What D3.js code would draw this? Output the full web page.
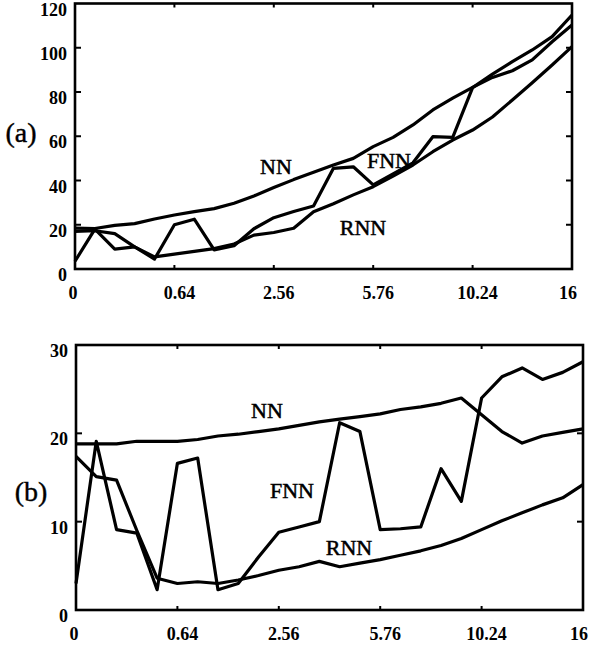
<!DOCTYPE html>
<html>
<head>
<meta charset="utf-8">
<script src="https://cdn.jsdelivr.net/npm/d3@7"></script>
<style>
  body { margin: 0; background: #fff; }
  svg { display: block; }
</style>
</head>
<body>
<div id="chart"></div>
<script>
// sample points (x axis is sqrt-spaced)
var xs = [0, 0.0256, 0.1024, 0.2304, 0.4096, 0.64, 0.9216, 1.2544, 1.6384, 2.0736,
  2.56, 3.0976, 3.6864, 4.3264, 5.0176, 5.76, 6.5536, 7.3984, 8.2944, 9.2416,
  10.24, 11.2896, 12.3904, 13.5424, 14.7456, 16];
var xTicks = [0, 0.64, 2.56, 5.76, 10.24, 16];

// panel (a)
var nnA  = [18.5, 18.3, 19.7, 20.5, 22.6, 24.4, 25.9, 27.3, 29.7, 33.0, 36.8, 40.4, 43.7, 47.0, 50.0, 55.3, 59.5, 65.1, 71.9, 77.2, 82.1, 86.6, 89.6, 94.5, 102.7, 110.3];
var fnnA = [3.5, 18.0, 9.0, 10.0, 4.5, 20.0, 22.5, 8.6, 10.5, 18.2, 23.2, 26.0, 28.5, 45.5, 46.2, 38.0, 43.0, 48.0, 59.8, 59.5, 82.0, 88.1, 93.7, 99.0, 105.0, 114.8];
var rnnA = [17.0, 17.3, 16.0, 10.0, 5.5, 6.7, 8.0, 9.2, 11.3, 15.3, 16.5, 18.4, 25.9, 29.5, 33.5, 37.2, 42.0, 47.0, 53.0, 58.3, 62.8, 68.7, 76.4, 84.2, 92.2, 100.5];
var yTicksA = [0, 20, 40, 60, 80, 100, 120];

// panel (b)
var nnB  = [18.8, 18.8, 18.8, 19.1, 19.1, 19.1, 19.3, 19.7, 19.9, 20.2, 20.5, 20.9, 21.3, 21.6, 21.9, 22.2, 22.7, 23.0, 23.4, 24.0, 22.1, 20.2, 18.9, 19.7, 20.1, 20.5];
var fnnB = [3.0, 19.1, 9.1, 8.7, 2.3, 16.6, 17.2, 2.3, 3.0, 6.0, 8.8, 9.4, 10.0, 21.2, 20.2, 9.1, 9.2, 9.4, 16.0, 12.3, 24.0, 26.4, 27.4, 26.1, 26.9, 28.1];
var rnnB = [17.4, 15.1, 14.7, 9.0, 3.6, 3.0, 3.2, 3.0, 3.4, 3.9, 4.5, 4.9, 5.5, 4.9, 5.3, 5.7, 6.2, 6.7, 7.3, 8.1, 9.1, 10.1, 11.0, 11.9, 12.7, 14.2];
var yTicksB = [0, 10, 20, 30];

var W = 589, H = 652;
var svg = d3.select("#chart").append("svg")
  .attr("width", W).attr("height", H);

var serif = "'Liberation Serif', 'Times New Roman', serif";

function panel(cfg) {
  var x = d3.scaleSqrt().domain([0, 16]).range([cfg.left, cfg.right]);
  var y = d3.scaleLinear().domain([0, cfg.ymax]).range([cfg.bottom, cfg.top]);
  var g = svg.append("g");

  // inward ticks on all four sides
  var tk = 6;
  cfg.yTicks.slice(1, -1).forEach(function(v) {
    g.append("line").attr("x1", cfg.left).attr("x2", cfg.left + tk)
      .attr("y1", y(v)).attr("y2", y(v)).attr("stroke", "#000").attr("stroke-width", 2);
    g.append("line").attr("x1", cfg.right).attr("x2", cfg.right - tk)
      .attr("y1", y(v)).attr("y2", y(v)).attr("stroke", "#000").attr("stroke-width", 2);
  });
  xTicks.slice(1, -1).forEach(function(v) {
    g.append("line").attr("x1", x(v)).attr("x2", x(v))
      .attr("y1", cfg.top).attr("y2", cfg.top + 4).attr("stroke", "#000").attr("stroke-width", 2);
    g.append("line").attr("x1", x(v)).attr("x2", x(v))
      .attr("y1", cfg.bottom).attr("y2", cfg.bottom - 4).attr("stroke", "#000").attr("stroke-width", 2);
  });

  // lines
  var line = d3.line()
    .x(function(d, i) { return x(xs[i]); })
    .y(function(d) { return y(d); });
  cfg.series.forEach(function(s) {
    g.append("path").datum(s)
      .attr("d", line)
      .attr("fill", "none")
      .attr("stroke", "#000")
      .attr("stroke-width", 3.2)
      .attr("stroke-linejoin", "round");
  });

  // frame
  g.append("rect")
    .attr("x", cfg.left).attr("y", cfg.top)
    .attr("width", cfg.right - cfg.left).attr("height", cfg.bottom - cfg.top)
    .attr("fill", "none").attr("stroke", "#000").attr("stroke-width", 2.6);

  // y labels
  g.selectAll(".yl").data(cfg.yTicks).enter().append("text")
    .attr("x", cfg.left - 8)
    .attr("y", function(d) { return y(d) + 12; })
    .attr("text-anchor", "end")
    .style("font-family", serif).style("font-weight", "bold").style("font-size", "18px")
    .text(function(d) { return d; });

  // x labels
  g.selectAll(".xl").data(xTicks).enter().append("text")
    .attr("x", function(d) { return x(d) + (d == 16 ? -4 : d == 0 ? -2 : 5); })
    .attr("y", cfg.bottom + 30)
    .attr("text-anchor", "middle")
    .style("font-family", serif).style("font-weight", "bold").style("font-size", "18px")
    .text(function(d) { return d; });

  // series names
  cfg.names.forEach(function(n) {
    g.append("text")
      .attr("x", n[1]).attr("y", n[2])
      .attr("text-anchor", "middle")
      .attr("stroke", "#000").attr("stroke-width", 0.5)
      .style("font-family", serif).style("font-size", "22px")
      .text(n[0]);
  });

  // panel tag
  g.append("text")
    .attr("x", cfg.tag[1]).attr("y", cfg.tag[2])
    .attr("text-anchor", "middle")
    .attr("stroke", "#000").attr("stroke-width", 0.4)
    .style("font-family", serif).style("font-size", "28px")
    .text(cfg.tag[0]);
}

panel({
  left: 75, right: 572, top: 3.5, bottom: 269, ymax: 120,
  yTicks: yTicksA,
  series: [nnA, fnnA, rnnA],
  names: [["NN", 276, 174], ["FNN", 389, 168], ["RNN", 363, 235]],
  tag: ["(a)", 21, 142]
});

panel({
  left: 76, right: 583, top: 345, bottom: 610, ymax: 30,
  yTicks: yTicksB,
  series: [nnB, fnnB, rnnB],
  names: [["NN", 267, 418], ["FNN", 292, 498], ["RNN", 349, 555]],
  tag: ["(b)", 31, 501]
});
</script>
</body>
</html>
